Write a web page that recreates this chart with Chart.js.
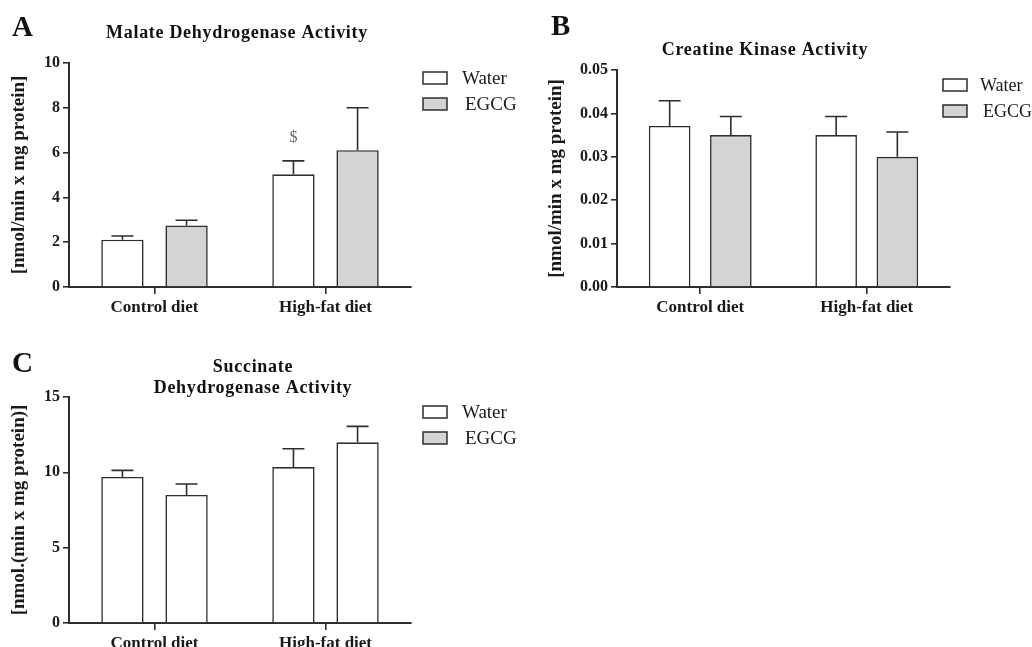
<!DOCTYPE html>
<html>
<head>
<meta charset="utf-8">
<script src="https://cdn.jsdelivr.net/npm/chart.js@4.4.1/dist/chart.umd.min.js"></script>
<style>
body{margin:0;background:#fff;width:1032px;height:647px;position:relative;overflow:hidden}
canvas{position:absolute}
</style>
</head>
<body>
<canvas id="chartA" width="520" height="320" style="left:0;top:0"></canvas>
<canvas id="chartB" width="512" height="320" style="left:520px;top:0"></canvas>
<canvas id="chartC" width="520" height="327" style="left:0;top:320px"></canvas>
<script>
// values (bar mean + SEM)
const categories=["Control diet","High-fat diet"];
const seriesNames=["Water","EGCG"];

const mdhWater=[2.11,5.03];
const mdhWaterSem=[0.17,0.6];
const mdhEgcg=[2.74,6.11];
const mdhEgcgSem=[0.24,1.89];
const mdhMarks=["","$"];
const mdhTicks=[0,2,4,6,8,10];

const ckWater=[0.0371,0.035];
const ckWaterSem=[0.0058,0.0043];
const ckEgcg=[0.035,0.030];
const ckEgcgSem=[0.0043,0.0057];
const ckTicks=[0,0.01,0.02,0.03,0.04,0.05];
const ckTickLabels=["0.00","0.01","0.02","0.03","0.04","0.05"];

const sdhWater=[9.69,10.35];
const sdhWaterSem=[0.44,1.22];
const sdhEgcg=[8.5,11.99];
const sdhEgcgSem=[0.73,1.06];
const sdhTicks=[0,5,10,15];

const serif="'Liberation Serif','Times New Roman',serif";
const ink="#2e2e2e";
const grey="#d4d4d4";

Chart.defaults.font.family=serif;
Chart.defaults.color="#1a1a1a";

const panelExtras={
    id:"panelExtras",
    afterDatasetsDraw(chart){
        const ctx=chart.ctx;
        const y=chart.scales.y;
        ctx.save();
        chart.data.datasets.forEach((ds,i)=>{
            chart.getDatasetMeta(i).data.forEach((bar,j)=>{
                const top=y.getPixelForValue(ds.data[j]+ds.sem[j]);
                ctx.strokeStyle=ink;
                ctx.lineWidth=1.6;
                ctx.beginPath();
                ctx.moveTo(bar.x,bar.y);
                ctx.lineTo(bar.x,top);
                ctx.moveTo(bar.x-11,top);
                ctx.lineTo(bar.x+11,top);
                ctx.stroke();
                if(ds.marks && ds.marks[j]){
                    ctx.fillStyle="#666";
                    ctx.font="16px "+serif;
                    ctx.textAlign="center";
                    ctx.textBaseline="middle";
                    ctx.fillText(ds.marks[j],bar.x,top-23);
                }
            });
        });
        ctx.restore();
    },
    afterDraw(chart,args,opts){
        const ctx=chart.ctx;
        const area=chart.chartArea;
        ctx.save();
        // panel letter
        ctx.fillStyle="#111";
        ctx.font="bold 29px "+serif;
        ctx.textAlign="left";
        ctx.textBaseline="alphabetic";
        ctx.fillText(opts.letter,opts.letterX,opts.letterY);
        // title
        ctx.font="bold 18px "+serif;
        ctx.letterSpacing="0.7px";
        ctx.textAlign="center";
        ctx.textBaseline="middle";
        opts.title.forEach((line,k)=>{
            ctx.fillText(line,opts.titleX,opts.titleY+k*21);
        });
        ctx.letterSpacing="0px";
        // legend
        ctx.font=opts.legendFont+"px "+serif;
        ctx.textAlign="left";
        chart.data.datasets.forEach((ds,i)=>{
            const cy=area.top+15+i*26;
            ctx.fillStyle=opts.legendColors[i];
            ctx.fillRect(opts.legendX,cy-6,24,12);
            ctx.strokeStyle=ink;
            ctx.lineWidth=1.5;
            ctx.strokeRect(opts.legendX,cy-6,24,12);
            ctx.fillStyle="#1a1a1a";
            ctx.fillText(ds.label,opts.legendX+opts.legendGap+(i?3:0),cy+1);
        });
        ctx.restore();
    }
};

function drawPanel(
    canvasId,
    water,
    waterSem,
    egcg,
    egcgSem,
    egcgFill,
    marks,
    ticks,
    tickLabels,
    yTitle,
    extras,
    box
){
    return new Chart(
        document.getElementById(canvasId),
        {
            type:"bar",
            data:{
                labels:categories,
                datasets:[
                    {
                        label:seriesNames[0],
                        data:water,
                        sem:waterSem,
                        marks:marks,
                        backgroundColor:"#fff",
                        borderColor:ink,
                        borderWidth:1.6
                    },
                    {
                        label:seriesNames[1],
                        data:egcg,
                        sem:egcgSem,
                        backgroundColor:egcgFill,
                        borderColor:ink,
                        borderWidth:1.6
                    }
                ]
            },
            options:{
                responsive:false,
                animation:false,
                categoryPercentage:box.cat,
                barPercentage:box.bar,
                layout:{
                    padding:{
                        left:box.padLeft,
                        right:box.padRight,
                        top:box.padTop,
                        bottom:0
                    }
                },
                plugins:{
                    legend:{display:false},
                    tooltip:{enabled:false},
                    panelExtras:extras
                },
                scales:{
                    x:{
                        afterFit(s){s.height=box.xHeight;},
                        grid:{
                            display:true,
                            drawOnChartArea:false,
                            offset:false,
                            tickLength:7,
                            color:ink,
                            lineWidth:1.6
                        },
                        border:{display:true,color:ink,width:2},
                        ticks:{
                            padding:3,
                            font:{size:17,weight:"bold"}
                        }
                    },
                    y:{
                        min:ticks[0],
                        max:ticks[ticks.length-1],
                        afterFit(s){s.width=box.yWidth;},
                        afterBuildTicks(s){
                            s.ticks=ticks.map(v=>({value:v}));
                        },
                        grid:{
                            display:true,
                            drawOnChartArea:false,
                            tickLength:6,
                            color:ink,
                            lineWidth:1.6
                        },
                        border:{display:true,color:ink,width:2},
                        ticks:{
                            padding:3,
                            font:{size:16,weight:"bold"},
                            callback:(v,i)=>tickLabels?tickLabels[i]:v
                        },
                        title:{
                            display:true,
                            text:yTitle,
                            padding:{top:8,bottom:0},
                            font:{size:19,weight:"bold"}
                        }
                    }
                }
            },
            plugins:[panelExtras]
        }
    );
}

drawPanel(
    "chartA",
    mdhWater,mdhWaterSem,mdhEgcg,mdhEgcgSem,grey,mdhMarks,
    mdhTicks,null,
    "[nmol/min x mg protein]",
    {
        letter:"A",letterX:12,letterY:36,
        title:["Malate Dehydrogenase Activity"],titleX:237,titleY:33,
        legendX:423,legendGap:39,legendFont:19,
        legendColors:["#fff",grey]
    },
    {padLeft:0,padRight:109,padTop:63,xHeight:33,yWidth:69,cat:0.75,bar:0.66}
);

drawPanel(
    "chartB",
    ckWater,ckWaterSem,ckEgcg,ckEgcgSem,grey,null,
    ckTicks,ckTickLabels,
    "[nmol/min x mg protein]",
    {
        letter:"B",letterX:31,letterY:35,
        title:["Creatine Kinase Activity"],titleX:245,titleY:50,
        legendX:423,legendGap:37,legendFont:18,
        legendColors:["#fff",grey]
    },
    {padLeft:17,padRight:82,padTop:70,xHeight:33,yWidth:80,cat:0.735,bar:0.68}
);

drawPanel(
    "chartC",
    sdhWater,sdhWaterSem,sdhEgcg,sdhEgcgSem,"#fff",null,
    sdhTicks,null,
    "[nmol.(min x mg protein)]",
    {
        letter:"C",letterX:12,letterY:52,
        title:["Succinate","Dehydrogenase Activity"],titleX:253,titleY:47,
        legendX:423,legendGap:39,legendFont:19,
        legendColors:["#fff",grey]
    },
    {padLeft:0,padRight:109,padTop:77,xHeight:24,yWidth:69,cat:0.75,bar:0.66}
);
</script>
</body>
</html>
